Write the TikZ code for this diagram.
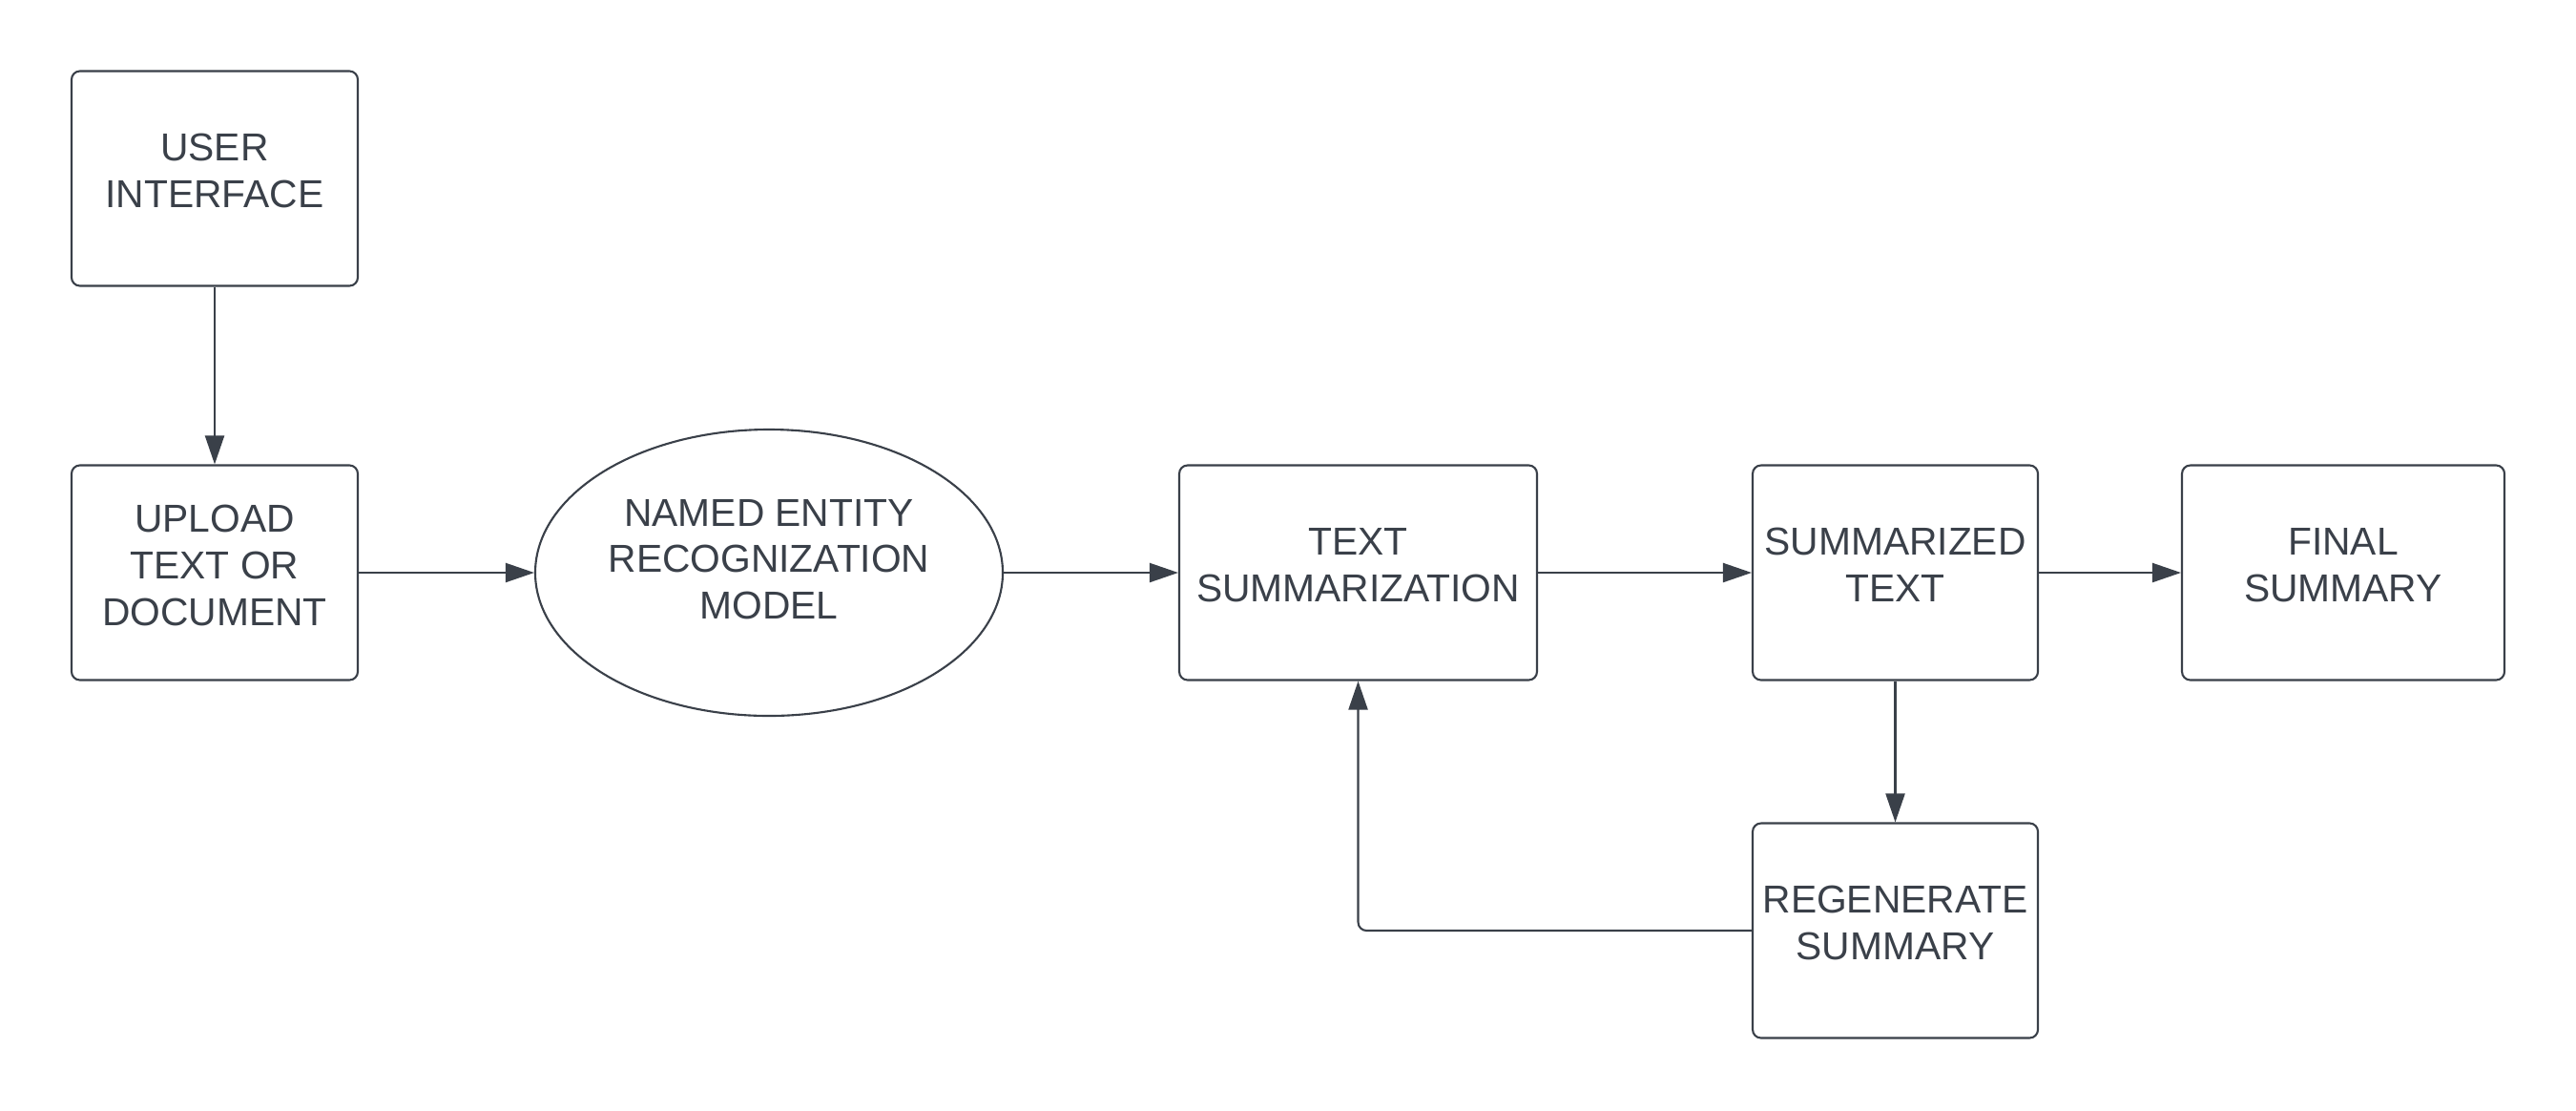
\documentclass[tikz,border=0pt]{standalone}
\usepackage{fontspec}
\setmainfont{Liberation Sans}
\usetikzlibrary{arrows.meta,shapes.geometric}
\definecolor{white}{RGB}{255,255,255}
\definecolor{slate}{RGB}{58,64,73}

\begin{document}
\begin{tikzpicture}[
	box/.style={rectangle,rounded corners=2.5pt,draw=slate,line width=0.6pt,inner sep=0pt,minimum height=2.25cm,align=center,text depth=4.5pt,text=slate,font=\fontsize{11.6}{13.9}\selectfont},
	oval/.style={ellipse,draw=slate,line width=0.6pt,inner sep=0pt,minimum width=4.9cm,minimum height=3cm,align=center,text depth=8pt,text=slate,font=\fontsize{11.6}{13.9}\selectfont},
	link/.style={draw=slate,line width=0.6pt,-{Triangle[length=0.3cm,width=0.2cm]}}]
	\useasboundingbox[fill=white] (0,0) rectangle (27,-11.63);
	\node[box,minimum width=3cm] (ui) at (2.25,-1.87) {USER\\INTERFACE};
	\node[box,minimum width=3cm] (upload) at (2.25,-6) {UPLOAD\\TEXT OR\\DOCUMENT};
	\node[oval] (ner) at (8.06,-6) {NAMED ENTITY\\RECOGNIZATION\\MODEL};
	\node[box,minimum width=3.75cm] (summ) at (14.235,-6) {TEXT\\SUMMARIZATION};
	\node[box,minimum width=2.99cm] (summtext) at (19.865,-6) {SUMMARIZED\\TEXT};
	\node[box,minimum width=3.38cm] (final) at (24.56,-6) {FINAL\\SUMMARY};
	\node[box,minimum width=2.99cm] (regen) at (19.865,-9.75) {REGENERATE\\SUMMARY};
	
	\draw[link] (ui) -- (upload);
	\foreach \x/\y in {upload/ner,ner/summ,summ/summtext,summtext/final}
		\draw[link] (\x) -- (\y);
	\draw[link] (summtext) -- (regen);
	\draw[link,rounded corners=2.5pt] (regen.west) -| (summ.south);
\end{tikzpicture}
\end{document}
